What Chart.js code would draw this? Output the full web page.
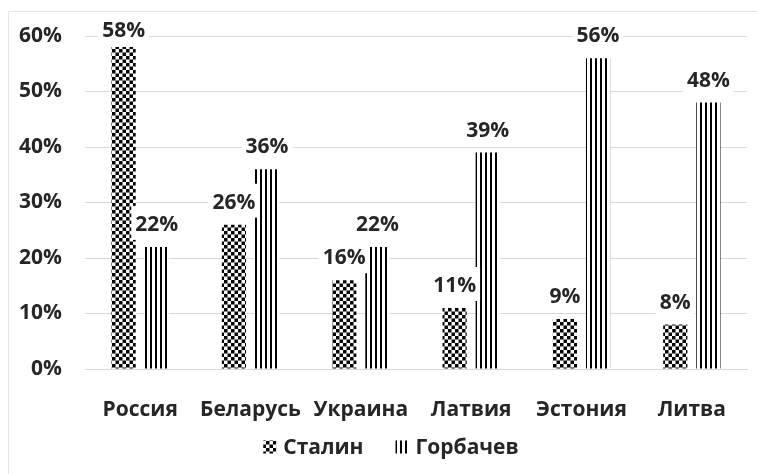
<!DOCTYPE html>
<html>
<head>
<meta charset="utf-8">
<script src="https://cdn.jsdelivr.net/npm/chart.js@4.4.1/dist/chart.umd.min.js"></script>
<style>
  html, body { margin: 0; padding: 0; background: #fff; }
  #wrap { position: relative; width: 757px; height: 474px; }
  #frame {
    position: absolute; left: 8px; top: 11px; right: 0; bottom: 0;
    border-left: 1px solid #e6e6e6; border-top: 1px solid #e6e6e6;
    pointer-events: none;
  }
</style>
</head>
<body>
<div id="wrap">
  <canvas id="myChart" width="757" height="474"></canvas>
  <div id="frame"></div>
</div>
<script>
// данные с картинки
const categories = ["Россия", "Беларусь", "Украина", "Латвия", "Эстония", "Литва"];
const stalinValues = [58, 26, 16, 11, 9, 8];
const gorbachevValues = [22, 36, 22, 39, 56, 48];
const yTicks = [0, 10, 20, 30, 40, 50, 60];

const FONT = "'Open Sans', 'DejaVu Sans', sans-serif";
const TEXT_COLOR = "#262626";

/**
 * Узор "шахматка" для Сталина
 */
function makeChecker() {
  const c = document.createElement("canvas");
  c.width = 7;
  c.height = 7;
  const g = c.getContext("2d");
  g.fillStyle = "#fff";
  g.fillRect(0, 0, 7, 7);
  g.fillStyle = "#000";
  g.fillRect(0, 0, 3.5, 3.5);
  g.fillRect(3.5, 3.5, 3.5, 3.5);
  return g.createPattern(c, "repeat");
}

/**
 * Узор вертикальных полос для Горбачева
 */
function makeStripes() {
  const c = document.createElement("canvas");
  c.width = 5;
  c.height = 5;
  const g = c.getContext("2d");
  g.fillStyle = "#fff";
  g.fillRect(0, 0, 5, 5);
  g.fillStyle = "#000";
  g.fillRect(0, 0, 2, 5);
  return g.createPattern(c, "repeat");
}

// подписи значений с белой подложкой
const valueLabels = {
  id: "valueLabels",
  afterDatasetsDraw(chart) {
    const ctx = chart.ctx;
    ctx.save();
    ctx.font = "bold 21px " + FONT;
    ctx.textAlign = "center";
    ctx.textBaseline = "middle";
    chart.data.datasets.forEach((ds, i) => {
      chart.getDatasetMeta(i).data.forEach((bar, j) => {
        const text = ds.data[j] + "%";
        const w = ctx.measureText(text).width;
        const cy = Math.max(bar.y - 22, chart.chartArea.top - 5);
        ctx.fillStyle = "#fff";
        ctx.fillRect(bar.x - w / 2 - 4, cy - 19, w + 8, 34);
        ctx.fillStyle = TEXT_COLOR;
        ctx.fillText(text, bar.x, cy);
      });
    });
    ctx.restore();
  }
};

// легенда снизу: значок с узором + подпись
const bottomLegend = {
  id: "bottomLegend",
  afterDraw(chart) {
    const ctx = chart.ctx;
    const box = 13, iconGap = 7, itemGap = 32;
    ctx.save();
    ctx.font = "bold 21px " + FONT;
    ctx.textBaseline = "middle";
    const items = chart.data.datasets.map(ds => ({
      text: ds.label,
      fill: ds.backgroundColor,
      w: box + iconGap + ctx.measureText(ds.label).width,
    }));
    const total = items.reduce((s, it) => s + it.w, 0) + itemGap * (items.length - 1);
    const cy = 447;
    let x = (chart.chartArea.left + chart.chartArea.right) / 2 - total / 2 - 25;
    items.forEach(it => {
      ctx.fillStyle = it.fill;
      ctx.fillRect(x, cy - box / 2, box, box);
      ctx.fillStyle = TEXT_COLOR;
      ctx.fillText(it.text, x + box + iconGap, cy + 1);
      x += it.w + itemGap;
    });
    ctx.restore();
  }
};

document.addEventListener("DOMContentLoaded", () => {
  const ctx = document.getElementById("myChart").getContext("2d");

  new Chart(ctx, {
    type: "bar",
    data: {
      labels: categories,
      datasets: [
        {
          label: "Сталин",
          data: stalinValues,
          backgroundColor: makeChecker(),
          borderWidth: 0,
        },
        {
          label: "Горбачев",
          data: gorbachevValues,
          backgroundColor: makeStripes(),
          borderWidth: 0,
        },
      ],
    },
    options: {
      responsive: false,
      animation: false,
      categoryPercentage: 0.6,
      barPercentage: 0.73,
      layout: { padding: { top: 36, right: 10, bottom: 0, left: 0 } },
      plugins: {
        tooltip: { enabled: false },
        legend: { display: false },
      },
      scales: {
        x: {
          grid: { display: false },
          border: { display: true, color: "#d9d9d9" },
          ticks: {
            padding: 20,
            color: TEXT_COLOR,
            font: { family: FONT, size: 21, weight: "bold" },
          },
          afterFit(scale) { scale.height = 105; },
        },
        y: {
          min: 0,
          max: 60,
          afterBuildTicks(scale) { scale.ticks = yTicks.map(v => ({ value: v })); },
          afterFit(scale) { scale.width = 85; },
          grid: { color: "#d9d9d9", drawTicks: false },
          border: { display: false },
          ticks: {
            padding: 23,
            color: TEXT_COLOR,
            font: { family: FONT, size: 21, weight: "bold" },
            callback: v => v + "%",
          },
        },
      },
    },
    plugins: [valueLabels, bottomLegend],
  });
});
</script>
</body>
</html>
